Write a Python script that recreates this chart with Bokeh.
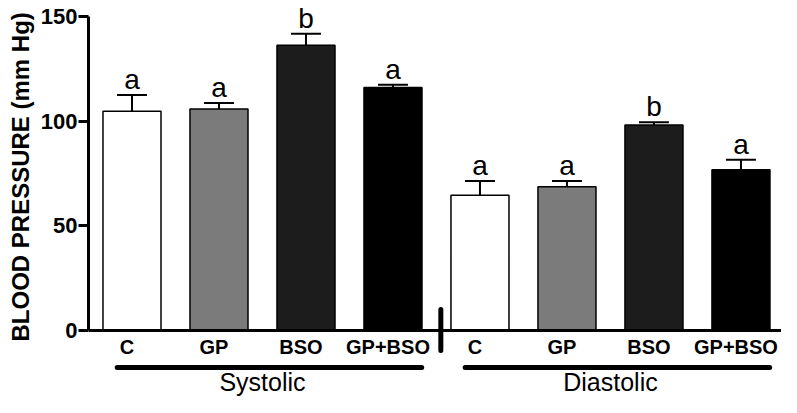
from bokeh.plotting import figure
from bokeh.models import Range1d, FixedTicker, ColumnDataSource, Title
from bokeh.embed import file_html
from bokeh.resources import INLINE
from bokeh.core.properties import value

# ---- data ----
groups = ["Systolic", "Diastolic"]
treatments = ["C", "GP", "BSO", "GP+BSO"]
systolic_mean = [104.7, 105.8, 136.2, 116.1]
systolic_sem = [7.8, 2.9, 5.5, 1.3]
diastolic_mean = [64.6, 68.7, 98.1, 76.8]
diastolic_sem = [6.8, 2.7, 1.4, 4.7]
systolic_letters = ["a", "a", "b", "a"]
diastolic_letters = ["a", "a", "b", "a"]
bar_colors = ["#ffffff", "#7b7b7b", "#1c1c1c", "#000000"]
y_ticks = [0, 50, 100, 150]
y_label = "BLOOD PRESSURE (mm Hg)"

FONT = "Liberation Sans"
n = len(treatments)
CAP = 0.172

xs, tops, his, lets, cols, names, xl, xr = [], [], [], [], [], [], [], []
for g, (means, sems, letters) in enumerate([(systolic_mean, systolic_sem, systolic_letters),
                                            (diastolic_mean, diastolic_sem, diastolic_letters)]):
    for t in range(n):
        x = g * n + t
        xs.append(x)
        tops.append(means[t])
        his.append(means[t] + sems[t])
        lets.append(letters[t])
        cols.append(bar_colors[t])
        names.append(treatments[t])
        xl.append(x - CAP)
        xr.append(x + CAP)

src = ColumnDataSource(dict(x=xs, top=tops, hi=his, letter=lets, color=cols,
                            name=names, xl=xl, xr=xr))

total = len(groups) * n
p = figure(width=781, height=397,
           x_range=Range1d(-0.5, 7.466), y_range=Range1d(-32.0, 157.6),
           output_backend="svg", toolbar_location=None,
           x_axis_location=None, y_axis_location="left",
           min_border_left=88, min_border_right=0,
           min_border_top=0, min_border_bottom=0)
p.grid.visible = False
p.outline_line_color = None
p.background_fill_color = "white"

ax = p.yaxis[0]
ax.bounds = (0, 150)
ax.ticker = FixedTicker(ticks=y_ticks)
ax.minor_tick_line_color = None
ax.axis_line_width = 3
ax.major_tick_line_width = 3
ax.major_tick_out = 10
ax.major_tick_in = 0
ax.major_label_standoff = 1
ax.major_label_text_font = FONT
ax.major_label_text_font_style = "bold"
ax.major_label_text_font_size = "22px"
ax.major_label_text_color = "black"

# y-axis title (side panel), placed along the axis bounds
p.add_layout(Title(text=y_label, align="left", offset=56, standoff=8,
                   text_font=FONT, text_font_style="bold", text_font_size="24px",
                   text_color="black"), "left")

# bars
p.vbar(x="x", top="top", bottom=0, width=0.667, fill_color="color",
       line_color="black", line_width=1.5, source=src)

# error bars
p.segment(x0="x", y0="top", x1="x", y1="hi", line_color="black", line_width=2, source=src)
p.segment(x0="xl", y0="hi", x1="xr", y1="hi", line_color="black", line_width=2, source=src)

# significance letters
p.text(x="x", y="hi", text="letter", text_font=value(FONT), text_font_size="28px",
       text_align="center", text_baseline="bottom",
       text_color="black", source=src)

# x baseline
p.segment(x0=[-0.5], y0=[0], x1=[total - 0.5], y1=[0], line_color="black", line_width=3)

# axis break mark
p.segment(x0=[n - 0.45], y0=[10], x1=[n - 0.45], y1=[-9.5], line_color="black",
          line_width=5, line_cap="round")

# category labels
p.text(x="x", y=-8.1, text="name", text_font=value(FONT), text_font_size="20px",
       text_font_style="bold", text_align="center", text_baseline="middle",
       x_offset=-5, text_color="black", source=src)

# group underlines and labels
gx0 = [g * n - 0.17 for g in range(len(groups))]
gx1 = [g * n + n - 1 + 0.33 for g in range(len(groups))]
gy = [-17.7] * len(groups)
p.segment(x0=gx0, y0=gy, x1=gx1, y1=gy, line_color="black", line_width=5, line_cap="round")
p.text(x=[g * n + (n - 1) / 2 for g in range(len(groups))], y=[-24.7] * len(groups),
       text=groups, text_font=value(FONT), text_font_size="25px",
       text_align="center", text_baseline="middle", text_color="black")

open("out.html", "w").write(file_html(p, INLINE))
